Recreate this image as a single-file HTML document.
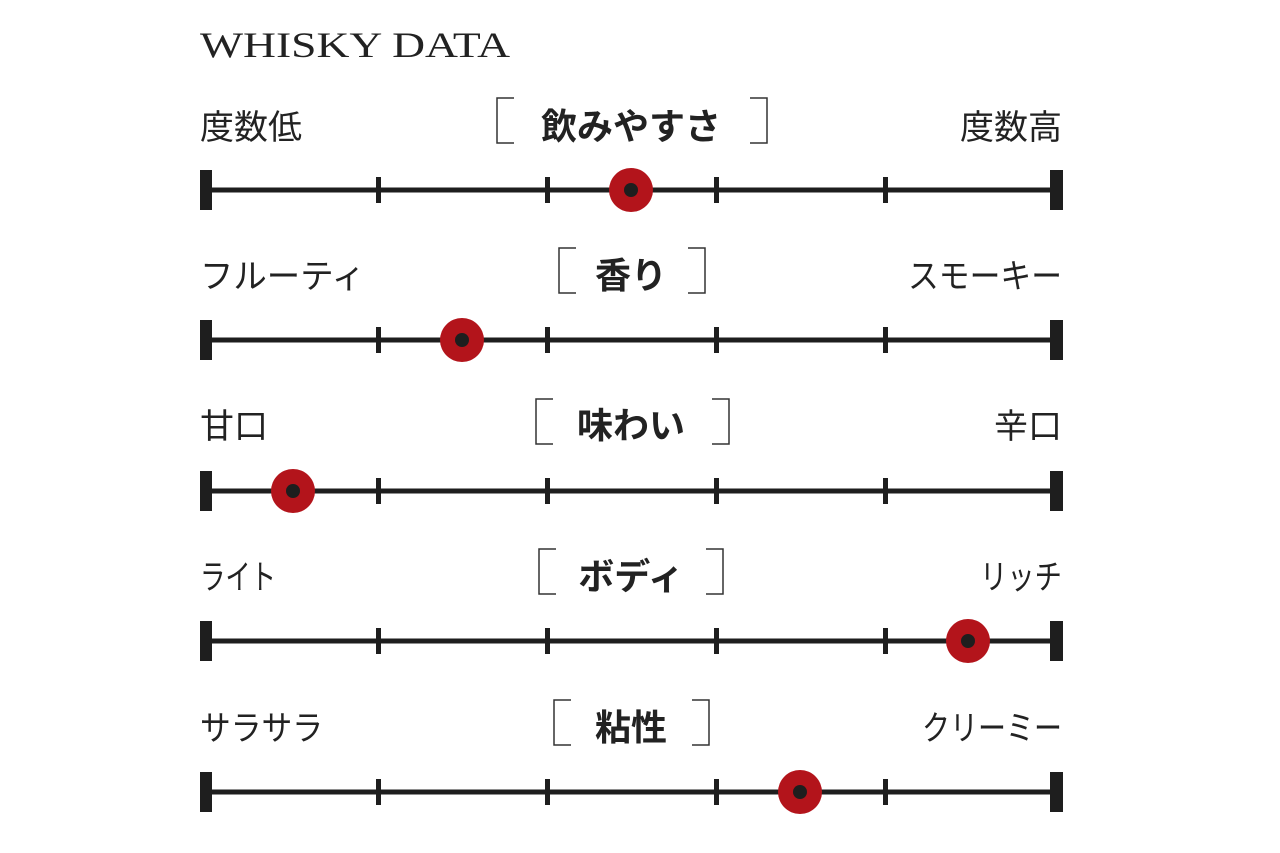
<!DOCTYPE html>
<html><head><meta charset="utf-8"><style>html,body{margin:0;padding:0;background:#fff;width:1280px;height:853px;overflow:hidden}</style></head>
<body>
<svg width="1280" height="853" viewBox="0 0 1280 853" xmlns="http://www.w3.org/2000/svg">
<text x="200" y="57" font-family="Liberation Serif, serif" font-size="36" fill="#222" textLength="310" lengthAdjust="spacingAndGlyphs">WHISKY DATA</text>
<defs>
<g id="bar">
<rect x="206" y="-2.5" width="850" height="5" fill="#1e1e1e"/>
<rect x="200" y="-20" width="12" height="40" fill="#1e1e1e"/>
<rect x="1050" y="-20" width="13" height="40" fill="#1e1e1e"/>
<rect x="376" y="-13" width="5" height="26" fill="#1e1e1e"/>
<rect x="545" y="-13" width="5" height="26" fill="#1e1e1e"/>
<rect x="714" y="-13" width="5" height="26" fill="#1e1e1e"/>
<rect x="883" y="-13" width="5" height="26" fill="#1e1e1e"/>
</g>
</defs>
<g font-family="Liberation Sans, Noto Sans CJK JP, sans-serif" fill="#222" font-size="34">
<text x="200" y="139">度数低</text>
<text x="1062" y="139" text-anchor="end">度数高</text>
<text x="631" y="139" text-anchor="middle" font-weight="bold" font-size="36">飲みやすさ</text>
<path d="M514 98 H497 V143 H514 M750 98 H767 V143 H750" fill="none" stroke="#333" stroke-width="1.5"/>
<use href="#bar" y="190"/>
<circle cx="631" cy="190" r="22" fill="#b3141b"/><circle cx="631" cy="190" r="7" fill="#1e1e1e"/>

<text x="200" y="288" textLength="165" lengthAdjust="spacingAndGlyphs">フルーティ</text>
<text x="908" y="288" textLength="154" lengthAdjust="spacingAndGlyphs">スモーキー</text>
<text x="631" y="288" text-anchor="middle" font-weight="bold" font-size="36">香り</text>
<path d="M576 248 H559 V293 H576 M688 248 H705 V293 H688" fill="none" stroke="#333" stroke-width="1.5"/>
<use href="#bar" y="340"/>
<circle cx="462" cy="340" r="22" fill="#b3141b"/><circle cx="462" cy="340" r="7" fill="#1e1e1e"/>

<text x="200" y="438">甘口</text>
<text x="1062" y="438" text-anchor="end">辛口</text>
<text x="631" y="438" text-anchor="middle" font-weight="bold" font-size="36">味わい</text>
<path d="M553 399 H536 V444 H553 M712 399 H729 V444 H712" fill="none" stroke="#333" stroke-width="1.5"/>
<use href="#bar" y="491"/>
<circle cx="293" cy="491" r="22" fill="#b3141b"/><circle cx="293" cy="491" r="7" fill="#1e1e1e"/>

<text x="200" y="589" textLength="76" lengthAdjust="spacingAndGlyphs">ライト</text>
<text x="980" y="589" textLength="82" lengthAdjust="spacingAndGlyphs">リッチ</text>
<text x="631" y="589" text-anchor="middle" font-weight="bold" font-size="36">ボディ</text>
<path d="M556 549 H539 V594 H556 M706 549 H723 V594 H706" fill="none" stroke="#333" stroke-width="1.5"/>
<use href="#bar" y="641"/>
<circle cx="968" cy="641" r="22" fill="#b3141b"/><circle cx="968" cy="641" r="7" fill="#1e1e1e"/>

<text x="200" y="740" textLength="123" lengthAdjust="spacingAndGlyphs">サラサラ</text>
<text x="922" y="740" textLength="140" lengthAdjust="spacingAndGlyphs">クリーミー</text>
<text x="631" y="740" text-anchor="middle" font-weight="bold" font-size="36">粘性</text>
<path d="M571 700 H554 V745 H571 M692 700 H709 V745 H692" fill="none" stroke="#333" stroke-width="1.5"/>
<use href="#bar" y="792"/>
<circle cx="800" cy="792" r="22" fill="#b3141b"/><circle cx="800" cy="792" r="7" fill="#1e1e1e"/>
</g>
</svg>
</body></html>
